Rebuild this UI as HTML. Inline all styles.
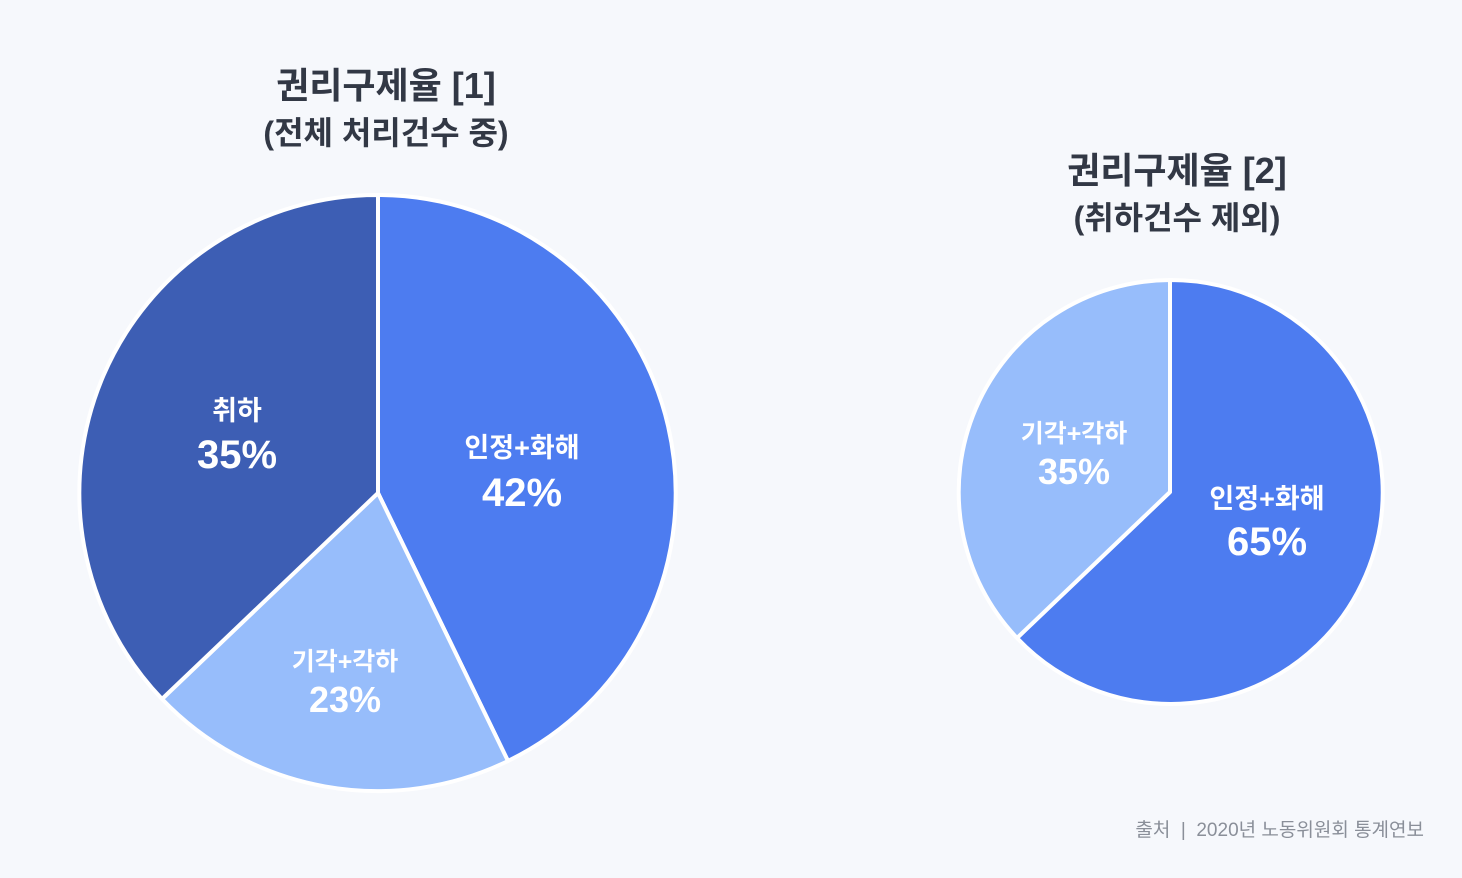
<!DOCTYPE html>
<html><head><meta charset="utf-8"><style>
html,body{margin:0;padding:0;background:#f6f8fc;}
body{width:1462px;height:873px;overflow:hidden;font-family:"Liberation Sans","Noto Sans CJK KR",sans-serif;}
</style></head><body>
<svg width="1462" height="873" xmlns="http://www.w3.org/2000/svg" font-family="Liberation Sans, Noto Sans CJK KR, sans-serif">
<rect width="1462" height="873" fill="#f6f8fc"/>
<g fill="#323845" font-weight="bold" text-anchor="middle">
<text x="386" y="98" font-size="36">권리구제율 [1]</text>
<text x="386" y="144" font-size="32" font-weight="600">(전체 처리건수 중)</text>
<text x="1177" y="183" font-size="36">권리구제율 [2]</text>
<text x="1177" y="229" font-size="32" font-weight="600">(취하건수 제외)</text>
</g>
<g stroke="#ffffff" stroke-width="4" stroke-linejoin="round">
<path d="M378,493 L378,195 A298,298 0 0 1 508,761 Z" fill="#4d7cf0"/>
<path d="M378,493 L508,761 A298,298 0 0 1 162,699 Z" fill="#97bdfb"/>
<path d="M378,493 L162,699 A298,298 0 0 1 378,195 Z" fill="#3d5eb4"/>
<path d="M1170,492 L1170,280 A212,212 0 1 1 1017,638 Z" fill="#4d7cf0"/>
<path d="M1170,492 L1017,638 A212,212 0 0 1 1170,280 Z" fill="#97bdfb"/>
</g>
<g fill="#ffffff" font-weight="bold" text-anchor="middle">
<text x="237" y="420" font-size="27">취하</text>
<text x="237" y="468" font-size="40">35%</text>
<text x="522" y="457" font-size="27">인정+화해</text>
<text x="522" y="506" font-size="40">42%</text>
<text x="345" y="670" font-size="25">기각+각하</text>
<text x="345" y="712" font-size="36">23%</text>
<text x="1074" y="442" font-size="25">기각+각하</text>
<text x="1074" y="484" font-size="36">35%</text>
<text x="1267" y="508" font-size="27">인정+화해</text>
<text x="1267" y="555" font-size="40">65%</text>
</g>
<text x="1424" y="836" font-size="19" fill="#8a8f99" text-anchor="end" style="white-space:pre" xml:space="preserve">출처  |  2020년 노동위원회 통계연보</text>
</svg>
</body></html>
